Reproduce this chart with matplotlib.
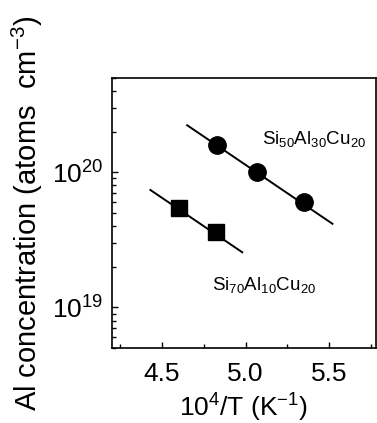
import numpy as np
import matplotlib
matplotlib.use("Agg")
import matplotlib.pyplot as plt
from matplotlib.ticker import LogLocator, MultipleLocator

plt.rcParams['font.family'] = ['Liberation Sans', 'DejaVu Sans']
plt.rcParams['mathtext.default'] = 'regular'

# Si50Al30Cu20 (circles)
x_circ = [4.83, 5.07, 5.35]
y_circ = [1.6e20, 1.0e20, 6.05e19]
# Si70Al10Cu20 (squares)
x_sq = [4.60, 4.82]
y_sq = [5.4e19, 3.6e19]
# fitted lines, end points
fit_circ_x = [4.65, 5.52]
fit_circ_y = [2.23e20, 4.16e19]
fit_sq_x = [4.43, 4.98]
fit_sq_y = [7.4e19, 2.56e19]

fig = plt.figure(figsize=(3.77, 4.23), dpi=100)
ax = fig.add_axes([0.297, 0.177, 0.70, 0.639])

ax.plot(fit_circ_x, fit_circ_y, color="black", lw=1.4)
ax.plot(fit_sq_x, fit_sq_y, color="black", lw=1.4)
ax.plot(x_circ, y_circ, "o", color="black", ms=12.5)
ax.plot(x_sq, y_sq, "s", color="black", ms=11.5)

ax.set_yscale("log")
ax.set_xlim(4.2, 5.78)
ax.set_ylim(5e18, 5e20)
ax.xaxis.set_major_locator(MultipleLocator(0.5))
ax.xaxis.set_minor_locator(MultipleLocator(0.25))
ax.yaxis.set_major_locator(LogLocator(base=10, numticks=10))
ax.yaxis.set_minor_locator(LogLocator(base=10, subs=np.arange(2, 10), numticks=10))
ax.tick_params(which="both", direction="in", labelsize=19, width=1)
ax.tick_params(which="major", length=4)
ax.tick_params(axis="x", which="major", pad=10)
ax.tick_params(axis="y", which="major", pad=6)
ax.tick_params(which="minor", length=3)
ax.set_xticks([4.5, 5.0, 5.5])
ax.set_xticklabels(["4.5", "5.0", "5.5"])
for s in ax.spines.values():
    s.set_linewidth(1.2)

ax.text(5.10, 1.76e20, "Si$_{50}$Al$_{30}$Cu$_{20}$", fontsize=13.5, va="center", ha="left")
ax.text(4.80, 1.47e19, "Si$_{70}$Al$_{10}$Cu$_{20}$", fontsize=13.5, va="center", ha="left")

ax.set_xlabel("10$^{4}$/T (K$^{-1}$)", fontsize=19, labelpad=4)
ax.set_ylabel("Al concentration (atoms  cm$^{-3}$)", fontsize=21)
ax.yaxis.set_label_coords(-0.255, 0.5)

fig.savefig("out.png", dpi=100)
